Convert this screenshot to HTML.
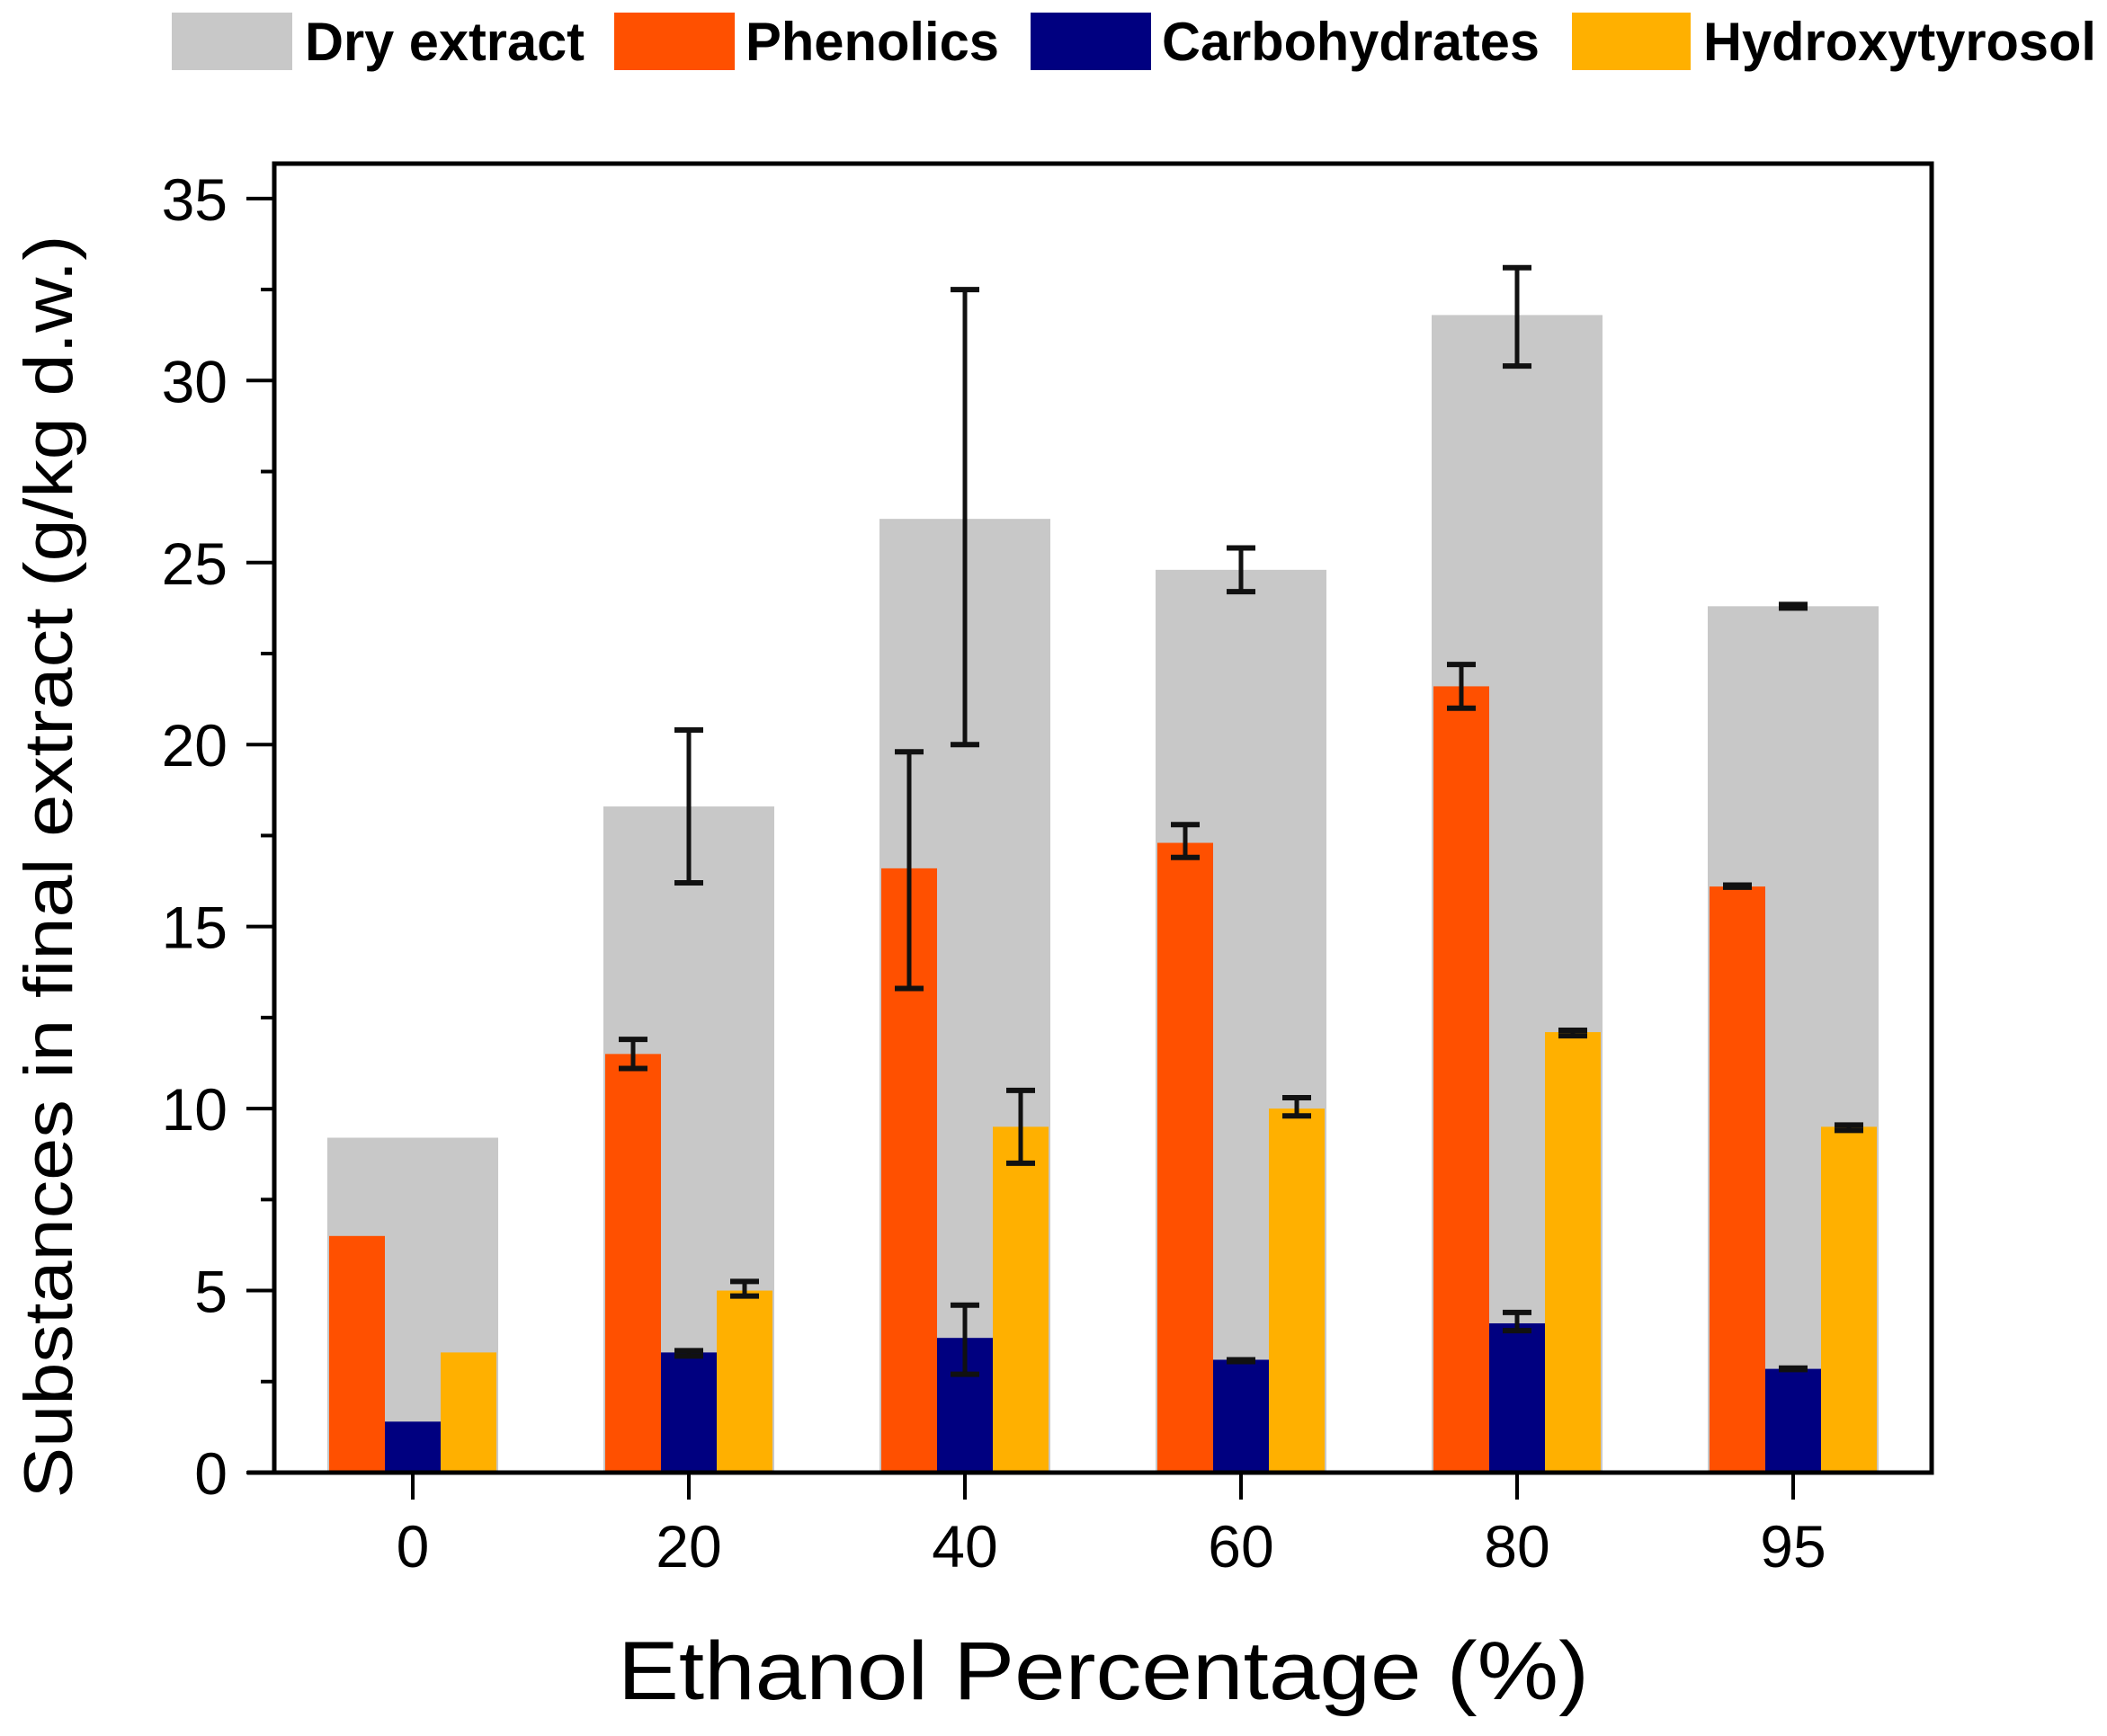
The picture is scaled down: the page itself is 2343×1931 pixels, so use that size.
<!DOCTYPE html>
<html><head><meta charset="utf-8"><style>html,body{margin:0;padding:0;background:#fff}svg{display:block}</style></head>
<body>
<svg xmlns="http://www.w3.org/2000/svg" width="2343" height="1931" viewBox="0 0 2343 1931" font-family="Liberation Sans, Arial, sans-serif">
<rect width="2343" height="1931" fill="#fff"/>
<!-- legend -->
<g font-weight="bold" font-size="60">
<rect x="191" y="14" width="134" height="64" fill="#c8c8c8"/>
<text x="339" y="67" textLength="311" lengthAdjust="spacingAndGlyphs">Dry extract</text>
<rect x="683" y="14" width="134" height="64" fill="#ff5000"/>
<text x="829" y="67" textLength="282" lengthAdjust="spacingAndGlyphs">Phenolics</text>
<rect x="1146" y="14" width="134" height="64" fill="#000080"/>
<text x="1292" y="67" textLength="420" lengthAdjust="spacingAndGlyphs">Carbohydrates</text>
<rect x="1748" y="14" width="132" height="64" fill="#ffb000"/>
<text x="1894" y="67" textLength="437" lengthAdjust="spacingAndGlyphs">Hydroxytyrosol</text>
</g>
<g id="bars"></g>
<!-- frame -->
<rect x="305" y="182" width="1843" height="1456" fill="none" stroke="#000" stroke-width="5"/>
<line x1="275" y1="1638" x2="2150" y2="1638" stroke="#000" stroke-width="5"/>
<g id="ticks" stroke="#000" stroke-width="4"></g>
<g id="lbl" font-size="66" fill="#000"></g>
<text transform="translate(80,964) rotate(-90)" font-size="76" text-anchor="middle" textLength="1405" lengthAdjust="spacingAndGlyphs">Substances in final extract (g/kg d.w.)</text>
<text x="1227" y="1890" font-size="92" text-anchor="middle" textLength="1080" lengthAdjust="spacingAndGlyphs">Ethanol Percentage (%)</text>
<script>
var ns="http://www.w3.org/2000/svg";
function el(p,t,a,txt){var e=document.createElementNS(ns,t);for(var k in a)e.setAttribute(k,a[k]);if(txt!=null)e.textContent=txt;document.getElementById(p).appendChild(e);}
function Y(v){return 1638-v*40.49;}
var dry=[[9.2],[18.3,16.2,20.4],[26.2,20.0,32.5],[24.8,24.2,25.4],[31.8,30.4,33.1],[23.8,23.75,23.85]];
var ph=[[6.5],[11.5,11.1,11.9],[16.6,13.3,19.8],[17.3,16.9,17.8],[21.6,21.0,22.2],[16.1,16.08,16.14]];
var cb=[[1.4],[3.3,3.2,3.35],[3.7,2.7,4.6],[3.1,3.05,3.1],[4.1,3.9,4.4],[2.85,2.83,2.87]];
var ht=[[3.3],[5.0,4.85,5.25],[9.5,8.5,10.5],[10.0,9.8,10.3],[12.1,12.0,12.15],[9.5,9.4,9.55]];
var labs=["0","20","40","60","80","95"];
var errs=[];
for(var i=0;i<6;i++){
 var c=459+307*i;
 el("bars","rect",{x:c-95,y:Y(dry[i][0]),width:190,height:dry[i][0]*40.49,fill:"#c8c8c8"});
 var sets=[[ph,c-93,"#ff5000"],[cb,c-31,"#000080"],[ht,c+31,"#ffb000"]];
 sets.forEach(function(s){var v=s[0][i];el("bars","rect",{x:s[1],y:Y(v[0]),width:62,height:v[0]*40.49,fill:s[2]});if(v.length>1)errs.push([s[1]+31,v[1],v[2]]);});
 if(dry[i].length>1)errs.push([c,dry[i][1],dry[i][2]]);
 el("ticks","line",{x1:c,y1:1638,x2:c,y2:1668});
 el("lbl","text",{x:c,y:1743,"text-anchor":"middle"},labs[i]);
}
errs.forEach(function(e){var x=e[0],a=Y(e[1]),b=Y(e[2]);
 el("bars","line",{x1:x,y1:a,x2:x,y2:b,stroke:"#111","stroke-width":5});
 el("bars","line",{x1:x-16,y1:a,x2:x+16,y2:a,stroke:"#111","stroke-width":6});
 el("bars","line",{x1:x-16,y1:b,x2:x+16,y2:b,stroke:"#111","stroke-width":6});});
for(var v=0;v<=35;v+=2.5){var y=Y(v);var maj=(v%5==0);
 el("ticks","line",{x1:maj?274:290,y1:y,x2:305,y2:y});
 if(maj)el("lbl","text",{x:253,y:y+24,"text-anchor":"end"},String(v));}
</script>
</svg>
</body></html>
